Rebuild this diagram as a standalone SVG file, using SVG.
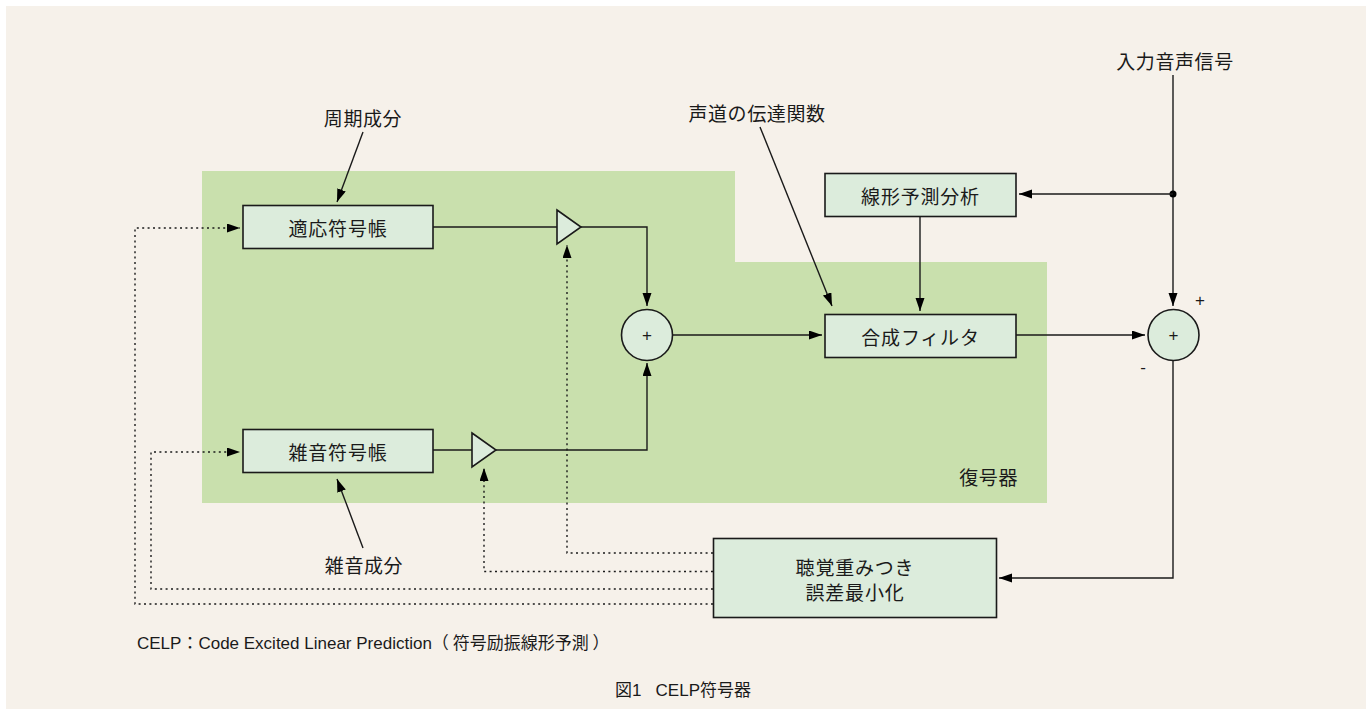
<svg xmlns="http://www.w3.org/2000/svg" width="1366" height="709" viewBox="0 0 1366 709">
<style>
.t{font-family:"Noto Sans CJK JP","Liberation Sans",sans-serif;fill:#1a1a1a}
.bt{font-size:19px;letter-spacing:0.8px}
.lt{font-size:19px;letter-spacing:0.6px}
.box{fill:#dcecdc;stroke:#1a1a1a;stroke-width:1.6}
.ln{fill:none;stroke:#1a1a1a;stroke-width:1.4}
.dot{fill:none;stroke:#1a1a1a;stroke-width:1.4;stroke-dasharray:2 3.4}
.lat{font-family:"Liberation Sans",Arial,sans-serif;fill:#1a1a1a}
.sg{font-family:"Liberation Sans",Arial,sans-serif;fill:#1a1a1a;font-size:17px}
</style>
<defs>
<marker id="ah" markerUnits="userSpaceOnUse" markerWidth="14" markerHeight="10" refX="13" refY="4.5" orient="auto">
<path d="M0,0 L13,4.5 L0,9 z" fill="#000"/>
</marker>
</defs>
<rect x="0" y="0" width="1366" height="709" fill="#ffffff"/>
<rect x="6" y="6" width="1360" height="703" fill="#f6f1ea"/>
<polygon id="decoder-area" points="202,171 735,171 735,262 1047,262 1047,503 202,503" fill="#c9e0ad"/>
<text class="t lt" x="1018" y="476" text-anchor="end" dominant-baseline="central">復号器</text>

<g id="connectors">
<line class="ln" x1="433" y1="227" x2="557" y2="227"/>
<polyline class="ln" points="581,227 647,227 647,306" marker-end="url(#ah)"/>
<line class="ln" x1="433" y1="450" x2="472" y2="450"/>
<polyline class="ln" points="496,450 647,450 647,363" marker-end="url(#ah)"/>
<line class="ln" x1="672" y1="335" x2="822" y2="335" marker-end="url(#ah)"/>
<line class="ln" x1="1016" y1="335" x2="1145" y2="335" marker-end="url(#ah)"/>
<line class="ln" x1="1173" y1="75" x2="1173" y2="306" marker-end="url(#ah)"/>
<circle cx="1173" cy="194" r="3.5" fill="#000"/>
<line class="ln" x1="1173" y1="194" x2="1019" y2="194" marker-end="url(#ah)"/>
<line class="ln" x1="920" y1="216" x2="920" y2="311" marker-end="url(#ah)"/>
<polyline class="ln" points="1173,360 1173,578 999,578" marker-end="url(#ah)"/>
<line class="ln" x1="760" y1="127" x2="832" y2="306" marker-end="url(#ah)"/>
<line class="ln" x1="363" y1="132" x2="337" y2="202" marker-end="url(#ah)"/>
<line class="ln" x1="363" y1="548" x2="337" y2="479" marker-end="url(#ah)"/>
<polyline class="dot" points="713,553 567,553 567,245" marker-end="url(#ah)"/>
<polyline class="dot" points="713,571.5 484,571.5 484,468" marker-end="url(#ah)"/>
<polyline class="dot" points="713,589 151,589 151,452 240,452" marker-end="url(#ah)"/>
<polyline class="dot" points="713,604 135,604 135,228 240,228" marker-end="url(#ah)"/>
</g>

<g id="adaptive-codebook">
<rect class="box" x="243" y="205.5" width="190" height="43"/>
<text class="t bt" x="338" y="227" text-anchor="middle" dominant-baseline="central">適応符号帳</text>
</g>
<g id="noise-codebook">
<rect class="box" x="243" y="429.5" width="190" height="43"/>
<text class="t bt" x="338" y="451" text-anchor="middle" dominant-baseline="central">雑音符号帳</text>
</g>
<g id="lpc-analysis">
<rect class="box" x="825" y="173.5" width="191" height="43"/>
<text class="t bt" x="920.5" y="195" text-anchor="middle" dominant-baseline="central">線形予測分析</text>
</g>
<g id="synthesis-filter">
<rect class="box" x="825" y="314.5" width="191" height="43"/>
<text class="t bt" x="920.5" y="336" text-anchor="middle" dominant-baseline="central">合成フィルタ</text>
</g>
<g id="error-min">
<rect class="box" x="713.5" y="538.5" width="283" height="79"/>
<text class="t bt" x="855" y="566.5" text-anchor="middle" dominant-baseline="central">聴覚重みつき</text>
<text class="t bt" x="855" y="591.5" text-anchor="middle" dominant-baseline="central">誤差最小化</text>
</g>
<g id="gain-adaptive">
<polygon class="box" points="557,210 581,227 557,244"/>
</g>
<g id="gain-noise">
<polygon class="box" points="472,433 496,450 472,467"/>
</g>
<g id="sum1">
<circle class="box" cx="647" cy="335" r="25.5"/>
<text class="sg" x="647" y="335" text-anchor="middle" dominant-baseline="central">+</text>
</g>
<g id="sum2">
<circle class="box" cx="1173.5" cy="335" r="25.5"/>
<text class="sg" x="1173.5" y="335" text-anchor="middle" dominant-baseline="central">+</text>
<text class="sg" x="1200" y="300" text-anchor="middle" dominant-baseline="central">+</text>
<text class="sg" x="1143" y="367" text-anchor="middle" dominant-baseline="central">-</text>
</g>
<g id="labels">
<text class="t lt" x="1175" y="60" text-anchor="middle" dominant-baseline="central">入力音声信号</text>
<text class="t lt" x="757" y="112" text-anchor="middle" dominant-baseline="central">声道の伝達関数</text>
<text class="t lt" x="363" y="117" text-anchor="middle" dominant-baseline="central">周期成分</text>
<text class="t lt" x="364" y="564" text-anchor="middle" dominant-baseline="central">雑音成分</text>
<text class="lat" x="137" y="649" font-size="17">CELP<tspan font-family="Noto Sans CJK JP">：</tspan>Code Excited Linear Prediction<tspan font-family="Noto Sans CJK JP">（&#160;符号励振線形予測&#160;）</tspan></text>
<text class="lat" x="683" y="696" font-size="17" text-anchor="middle"><tspan font-family="Noto Sans CJK JP">図</tspan>1&#160;&#160;&#160;CELP<tspan font-family="Noto Sans CJK JP">符号器</tspan></text>
</g>
</svg>
